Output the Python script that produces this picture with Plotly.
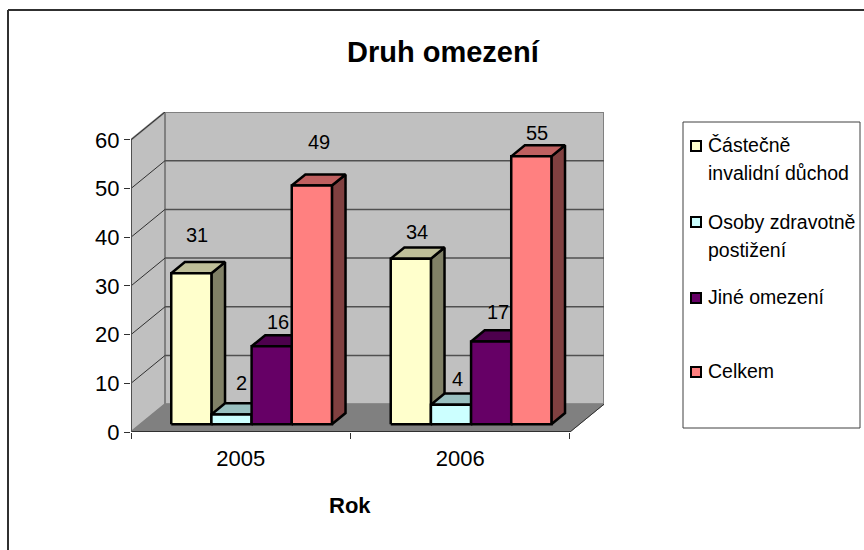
import plotly.graph_objects as go

# ---- data ----
title_text = "Druh omezení"
x_title = "Rok"
years = ["2005", "2006"]
series_names = ["Částečně invalidní důchod", "Osoby zdravotně postižení", "Jiné omezení", "Celkem"]
partial_disability = [31, 34]
health_disabled = [2, 4]
other_limit = [16, 17]
total = [49, 55]
y_ticks = [0, 10, 20, 30, 40, 50, 60]

# ---- styles ----
FONT = "Liberation Sans"
front_colors = ["#FFFFCC", "#CCFFFF", "#660066", "#FF8080"]
top_colors = ["#BFBF99", "#99BFBF", "#4D004D", "#BF6060"]
side_colors = ["#808066", "#668080", "#330033", "#804040"]
legend_rows = [
    (146, [("Částečně", 145), ("invalidní důchod", 173)]),
    (222, [("Osoby zdravotně", 222), ("postižení", 250)]),
    (298, [("Jiné omezení", 297)]),
    (372, [("Celkem", 371)]),
]
# pixel offsets of each value label from its bar's back top corner (as placed in the original)
label_lift = [[27, 20, 13, 32], [16, 15, 18, 12]]
label_dx = [[-28, -24, -27, -27], [-28, -27, -27, -28]]

# ---- pseudo-3D projection ----
L, R, T, B = 131, 604, 112, 432
DX = 0.155        # depth shift in category units
DY = 5.71         # depth shift in value units
BAR_W = 0.183
GROUP_GAP = (1 - 4 * BAR_W) / 2 + 0.006
Z0, Z1 = 0.28, 0.68


def proj(x, v, z):
    return x + z * DX, v + z * DY


def pxx(p):
    return (p - L) / (R - L)


def pxy(p):
    return (B - p) / (B - T)


def poly(corners):
    xs, ys = [], []
    for x, v, z in corners:
        a, b = proj(x, v, z)
        xs.append(a)
        ys.append(b)
    return xs, ys


def face(fig, polys, fill, line_color="black", width=2.5):
    xs, ys = [], []
    for c in polys:
        a, b = poly(c + [c[0]])
        xs += a + [None]
        ys += b + [None]
    fig.add_trace(go.Scatter(x=xs, y=ys, mode="lines", fill="toself", fillcolor=fill,
                             line=dict(color=line_color, width=width), hoverinfo="skip",
                             showlegend=False, cliponaxis=False))


def line(fig, corners, color, width):
    a, b = poly(corners)
    fig.add_trace(go.Scatter(x=a, y=b, mode="lines", line=dict(color=color, width=width),
                             hoverinfo="skip", showlegend=False, cliponaxis=False))


fig = go.Figure()
top_v = y_ticks[-1]
n = len(years)

# walls and floor
face(fig, [[(0, 0, 0), (0, 0, 1), (0, top_v, 1), (0, top_v, 0)]], "#C0C0C0", "#808080", 2)
face(fig, [[(0, 0, 1), (n, 0, 1), (n, top_v, 1), (0, top_v, 1)]], "#C0C0C0", "#808080", 2)
face(fig, [[(0, 0, 0), (n, 0, 0), (n, 0, 1), (0, 0, 1)]], "#808080", "#808080", 1)
for v in y_ticks[1:-1]:
    line(fig, [(0, v, 1), (n, v, 1)], "#505050", 1.5)
for v in y_ticks[1:]:
    line(fig, [(0, v, 0), (0, v, 1)], "#303030", 1)
line(fig, [(n, 0, 0), (n, 0, 1)], "#303030", 1)

# bars
all_series = [partial_disability, health_disabled, other_limit, total]
for s, values in enumerate(all_series):
    sides, tops, fronts = [], [], []
    for c, v in enumerate(values):
        x0 = c + GROUP_GAP + s * BAR_W
        x1 = x0 + BAR_W
        sides.append([(x1, 0, Z0), (x1, 0, Z1), (x1, v, Z1), (x1, v, Z0)])
        tops.append([(x0, v, Z0), (x1, v, Z0), (x1, v, Z1), (x0, v, Z1)])
        fronts.append([(x0, 0, Z0), (x1, 0, Z0), (x1, v, Z0), (x0, v, Z0)])
    face(fig, sides, side_colors[s])
    face(fig, tops, top_colors[s])
    face(fig, fronts, front_colors[s])

# front axis lines
line(fig, [(0, 0, 0), (n, 0, 0)], "#303030", 2)
line(fig, [(0, 0, 0), (0, top_v, 0)], "#505050", 2)

annotations = []
for s, values in enumerate(all_series):
    for c, v in enumerate(values):
        x0 = c + GROUP_GAP + s * BAR_W
        a, b = proj(x0 + BAR_W, v, Z1)
        annotations.append(dict(x=a, y=b, xref="x", yref="y", text=str(v), showarrow=False,
                                xshift=label_dx[c][s], yshift=label_lift[c][s],
                                font=dict(family=FONT, size=20, color="black")))

# hand-built legend text
for _, rows in legend_rows:
    for text, yp in rows:
        annotations.append(dict(x=pxx(706), y=pxy(yp), xref="paper", yref="paper", text=text,
                                showarrow=False, xanchor="left", yanchor="middle",
                                font=dict(family=FONT, size=19.5, color="black")))

annotations.append(dict(x=pxx(350), y=pxy(505), xref="paper", yref="paper", text=x_title,
                        showarrow=False, xanchor="center", yanchor="middle",
                        font=dict(family=FONT, size=22, color="black", weight="bold")))
annotations.append(dict(x=pxx(443), y=pxy(52), xref="paper", yref="paper", text=title_text,
                        showarrow=False, xanchor="center", yanchor="middle",
                        font=dict(family=FONT, size=29, color="black", weight="bold")))

shapes = [
    dict(type="line", xref="paper", yref="paper", x0=pxx(8), y0=pxy(10), x1=pxx(864), y1=pxy(10),
         line=dict(color="#303030", width=2)),
    dict(type="line", xref="paper", yref="paper", x0=pxx(8), y0=pxy(10), x1=pxx(8), y1=pxy(550),
         line=dict(color="#303030", width=2)),
    dict(type="rect", xref="paper", yref="paper", x0=pxx(683), y0=pxy(122), x1=pxx(860), y1=pxy(428),
         line=dict(color="#404040", width=1), fillcolor="white"),
]
for i, (yc, _) in enumerate(legend_rows):
    shapes.append(dict(type="rect", xref="paper", yref="paper", x0=pxx(691), x1=pxx(701),
                       y0=pxy(yc - 5), y1=pxy(yc + 5), fillcolor=front_colors[i],
                       line=dict(color="black", width=2)))

fig.update_layout(
    width=864, height=550, autosize=False,
    margin=dict(l=L, r=864 - R, t=T, b=550 - B, pad=0),
    paper_bgcolor="white", plot_bgcolor="white",
    showlegend=False,
    annotations=annotations, shapes=shapes,
    xaxis=dict(range=[0, n + DX], tickmode="array", tickvals=[0.5, 1.5], ticktext=years,
               ticks="", showgrid=False, zeroline=False, showline=False, ticklabelstandoff=11,
               tickfont=dict(family=FONT, size=22, color="black"),
               minor=dict(tickmode="array", tickvals=[0, 1, 2], ticks="outside", ticklen=6,
                          tickcolor="#303030", tickwidth=1, showgrid=False)),
    yaxis=dict(range=[0, top_v + DY], tickmode="array", tickvals=y_ticks, ticks="outside",
               ticklen=6, tickcolor="#303030", tickwidth=1, showgrid=False, zeroline=False,
               showline=False, tickfont=dict(family=FONT, size=22, color="black")),
)
fig.write_html("out.html", config=dict(displayModeBar=False),
               post_script="document.body.style.margin='0';document.documentElement.style.overflow='hidden';")
